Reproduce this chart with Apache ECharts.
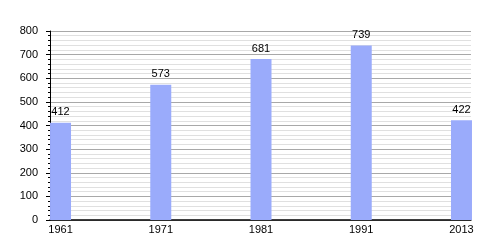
<!DOCTYPE html>
<html><head><meta charset="utf-8">
<script src="https://cdn.jsdelivr.net/npm/echarts@6/dist/echarts.min.js"></script>
<style>html,body{margin:0;padding:0;background:#fff}#c{width:500px;height:250px}</style>
</head><body><div id="c"></div>
<script>
const years = ['1961','1971','1981','1991','2013'];
const values = [412, 573, 681, 739, 422];
const yTicks = [0,100,200,300,400,500,600,700,800];

const slotPositions = years.map((_, i) => i * 100);
const chart = echarts.init(document.getElementById('c'), null, {renderer:'canvas'});
const font = 'Liberation Sans, Arial, sans-serif';
chart.setOption({
  animation:false,
  grid:{left:50, right:29, top:31, bottom:30, containLabel:false},
  xAxis:{
    type:'value', min:-10.5, max:409.5,
    axisLine:{show:true, onZero:false, lineStyle:{color:'#000', width:1.5}},
    axisTick:{show:false},
    splitLine:{show:false},
    axisLabel:{customValues:slotPositions, margin:4, color:'#000', fontFamily:font, fontSize:11,
      formatter:v=>years[Math.round(v/100)]}
  },
  yAxis:{
    type:'value', min:yTicks[0], max:yTicks[yTicks.length-1], interval:100,
    axisLine:{show:true, onZero:false, lineStyle:{color:'#000', width:1}},
    axisTick:{show:true, length:4, lineStyle:{color:'#000'}},
    minorTick:{show:true, splitNumber:5, length:2, lineStyle:{color:'#000'}},
    splitLine:{show:true, lineStyle:{color:'#a8a8a8', width:1}},
    minorSplitLine:{show:true, lineStyle:{color:'#e0e0e0', width:1}},
    axisLabel:{margin:12, color:'#000', fontFamily:font, fontSize:11}
  },
  series:[{
    type:'bar', barWidth:21,
    data: values.map((v,i)=>[slotPositions[i], v]),
    itemStyle:{color:'#9aabfb'},
    label:{show:true, position:'top', distance:5, color:'#000', fontFamily:font, fontSize:11}
  }]
});
</script></body></html>
